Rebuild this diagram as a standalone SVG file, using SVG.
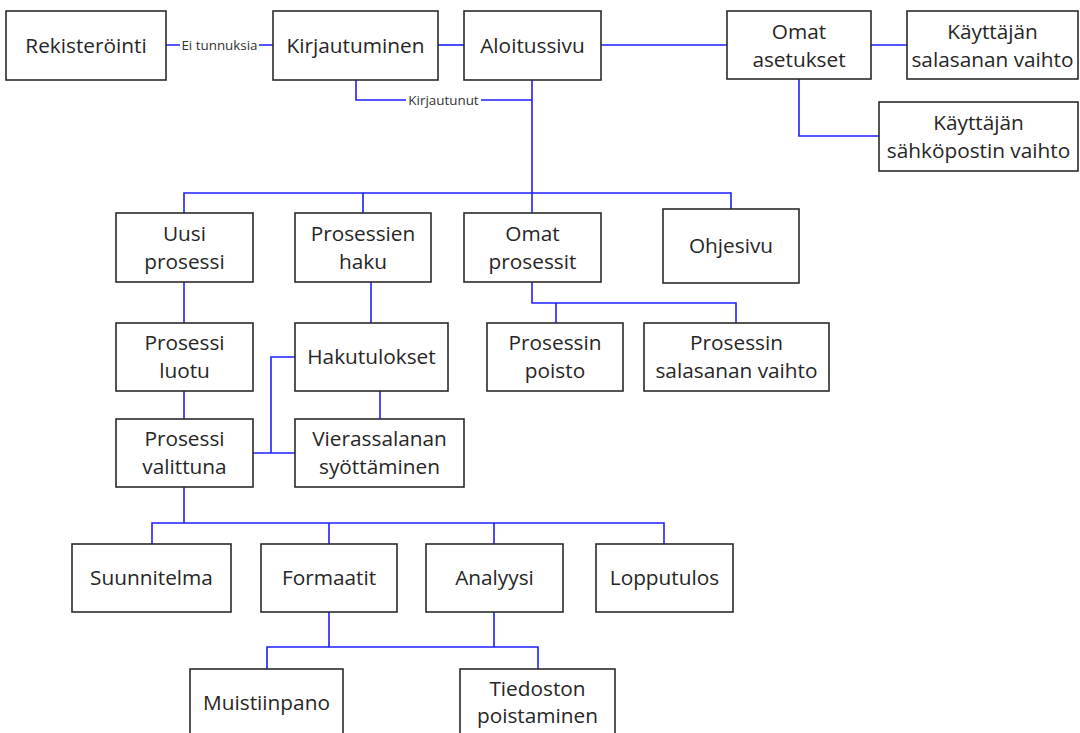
<svg xmlns="http://www.w3.org/2000/svg" width="1080" height="733" viewBox="0 0 1080 733">
<style>
.box{fill:#fff;stroke:#2b2b2b;stroke-width:1.6}
.t{font-family:"Open Sans","Liberation Sans",sans-serif;font-size:20.8px;fill:#262626;text-anchor:middle}
.el{font-family:"Open Sans","Liberation Sans",sans-serif;font-size:13.4px;fill:#333;text-anchor:middle}
.c{fill:none;stroke:#1f1fff;stroke-width:1.6}
</style>
<rect width="1080" height="733" fill="#fff"/>
<g id="connectors" class="c">
<path d="M166,45 H180 M259,45 H273"/>
<path d="M438,45 H464"/>
<path d="M601,45 H727"/>
<path d="M871,45 H907"/>
<path d="M799,79 V136 H879"/>
<path d="M356,80 V100 H406 M481,100 H532"/>
<path d="M532,80 V213"/>
<path d="M184,213 V193 H731 V209 M363,193 V213"/>
<path d="M184,282 V323"/>
<path d="M184,391 V419"/>
<path d="M371,282 V323"/>
<path d="M380,391 V419"/>
<path d="M295,357 H271 V453 M253,453 H295"/>
<path d="M532,282 V303 H736 V323 M556,303 V323"/>
<path d="M184,487 V523 M152,544 V523 H664 V544 M329,523 V544 M494,523 V544"/>
<path d="M329,612 V647 M267,669 V647 H538 V669 M494,612 V647"/>
</g>
<g id="edge-labels">
<text class="el" x="219.5" y="50">Ei tunnuksia</text>
<text class="el" x="443.5" y="104.5">Kirjautunut</text>
</g>
<g id="n-rekisterointi"><rect class="box" x="6" y="11" width="160" height="69"/><text class="t" x="86" y="52.5">Rekisteröinti</text></g>
<g id="n-kirjautuminen"><rect class="box" x="273" y="11" width="165" height="69"/><text class="t" x="355.5" y="52.5">Kirjautuminen</text></g>
<g id="n-aloitussivu"><rect class="box" x="464" y="11" width="137" height="69"/><text class="t" x="532.5" y="52.5">Aloitussivu</text></g>
<g id="n-omat-asetukset"><rect class="box" x="727" y="11" width="144" height="68"/><text class="t" x="799" y="38.5">Omat</text><text class="t" x="799" y="66.5">asetukset</text></g>
<g id="n-kayttajan-salasana"><rect class="box" x="907" y="11" width="171" height="68"/><text class="t" x="992.5" y="38.5">Käyttäjän</text><text class="t" x="992.5" y="66.5">salasanan vaihto</text></g>
<g id="n-kayttajan-sahkoposti"><rect class="box" x="879" y="102" width="199" height="69"/><text class="t" x="978.5" y="129.5">Käyttäjän</text><text class="t" x="978.5" y="157.5">sähköpostin vaihto</text></g>
<g id="n-uusi-prosessi"><rect class="box" x="116" y="213" width="137" height="69"/><text class="t" x="184.5" y="241">Uusi</text><text class="t" x="184.5" y="269">prosessi</text></g>
<g id="n-prosessien-haku"><rect class="box" x="295" y="213" width="136" height="69"/><text class="t" x="363" y="241">Prosessien</text><text class="t" x="363" y="269">haku</text></g>
<g id="n-omat-prosessit"><rect class="box" x="464" y="213" width="137" height="69"/><text class="t" x="532.5" y="241">Omat</text><text class="t" x="532.5" y="269">prosessit</text></g>
<g id="n-ohjesivu"><rect class="box" x="663" y="209" width="136" height="74"/><text class="t" x="731" y="252.5">Ohjesivu</text></g>
<g id="n-prosessi-luotu"><rect class="box" x="116" y="323" width="137" height="68"/><text class="t" x="184.5" y="350">Prosessi</text><text class="t" x="184.5" y="378">luotu</text></g>
<g id="n-hakutulokset"><rect class="box" x="295" y="323" width="153" height="68"/><text class="t" x="371.5" y="364">Hakutulokset</text></g>
<g id="n-prosessin-poisto"><rect class="box" x="487" y="323" width="136" height="68"/><text class="t" x="555" y="350">Prosessin</text><text class="t" x="555" y="378">poisto</text></g>
<g id="n-prosessin-salasana"><rect class="box" x="644" y="323" width="185" height="68"/><text class="t" x="736.5" y="350">Prosessin</text><text class="t" x="736.5" y="378">salasanan vaihto</text></g>
<g id="n-prosessi-valittuna"><rect class="box" x="116" y="419" width="137" height="68"/><text class="t" x="184.5" y="446">Prosessi</text><text class="t" x="184.5" y="474">valittuna</text></g>
<g id="n-vierassalanan"><rect class="box" x="295" y="419" width="169" height="68"/><text class="t" x="379.5" y="446">Vierassalanan</text><text class="t" x="379.5" y="474">syöttäminen</text></g>
<g id="n-suunnitelma"><rect class="box" x="72" y="544" width="159" height="68"/><text class="t" x="151.5" y="584.5">Suunnitelma</text></g>
<g id="n-formaatit"><rect class="box" x="261" y="544" width="136" height="68"/><text class="t" x="329" y="584.5">Formaatit</text></g>
<g id="n-analyysi"><rect class="box" x="426" y="544" width="137" height="68"/><text class="t" x="494.5" y="584.5">Analyysi</text></g>
<g id="n-lopputulos"><rect class="box" x="596" y="544" width="137" height="68"/><text class="t" x="664.5" y="584.5">Lopputulos</text></g>
<g id="n-muistiinpano"><rect class="box" x="190" y="669" width="153" height="70"/><text class="t" x="266.5" y="710">Muistiinpano</text></g>
<g id="n-tiedoston-poistaminen"><rect class="box" x="460" y="669" width="155" height="70"/><text class="t" x="537.5" y="695.5">Tiedoston</text><text class="t" x="537.5" y="723">poistaminen</text></g>
</svg>
